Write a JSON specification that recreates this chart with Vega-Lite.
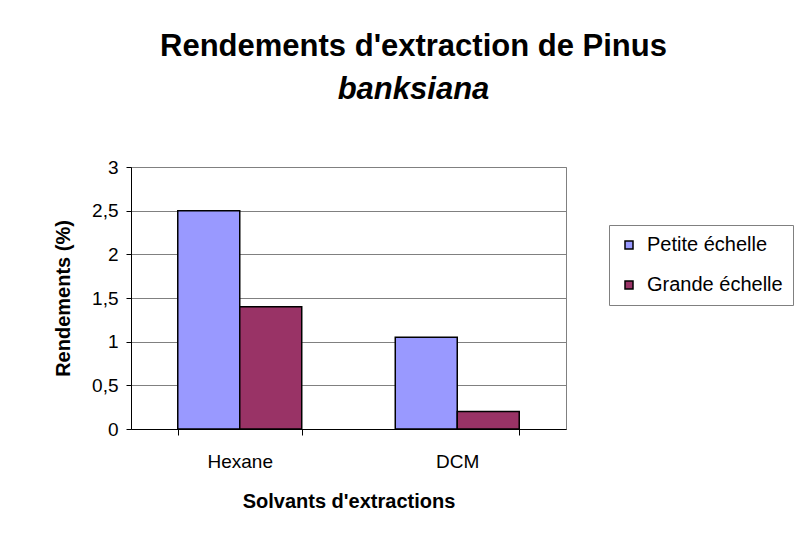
{
  "$schema": "https://vega.github.io/schema/vega-lite/v6.json",
  "autosize": {"type": "none"},
  "padding": {"left": 131, "top": 167, "right": 234, "bottom": 113},
  "width": 435,
  "height": 262,
  "background": "white",
  "title": {
    "text": "Rendements d'extraction de Pinus",
    "subtitle": "banksiana",
    "anchor": "middle",
    "dx": 65,
    "offset": 52,
    "font": "Liberation Sans",
    "fontSize": 31,
    "fontWeight": "bold",
    "color": "black",
    "subtitleFont": "Liberation Sans",
    "subtitleFontSize": 31,
    "subtitleFontWeight": "bold",
    "subtitleFontStyle": "italic",
    "subtitleColor": "black",
    "subtitlePadding": 12
  },
  "data": {
    "values": [
      {"solvant": "Hexane", "echelle": "Petite échelle", "rendement": 2.5},
      {"solvant": "Hexane", "echelle": "Grande échelle", "rendement": 1.4},
      {"solvant": "DCM", "echelle": "Petite échelle", "rendement": 1.05},
      {"solvant": "DCM", "echelle": "Grande échelle", "rendement": 0.2}
    ]
  },
  "mark": {"type": "bar", "stroke": "black", "strokeWidth": 1.5},
  "encoding": {
    "x": {
      "field": "solvant",
      "type": "nominal",
      "sort": ["Hexane", "DCM"],
      "scale": {"paddingInner": 0.43, "paddingOuter": 0.215},
      "axis": {
        "title": "Solvants d'extractions",
        "labelAngle": 0,
        "tickBand": "extent",
        "tickSize": 6,
        "tickColor": "black",
        "domainColor": "black",
        "labelPadding": 17,
        "titlePadding": 20,
        "labelFont": "Liberation Sans",
        "labelFontSize": 19,
        "labelColor": "black",
        "titleFont": "Liberation Sans",
        "titleFontSize": 20,
        "titleFontWeight": "bold",
        "titleColor": "black"
      }
    },
    "xOffset": {
      "field": "echelle",
      "type": "nominal",
      "sort": ["Petite échelle", "Grande échelle"],
      "scale": {"paddingInner": 0, "paddingOuter": 0}
    },
    "y": {
      "field": "rendement",
      "type": "quantitative",
      "scale": {"domain": [0, 3], "nice": false},
      "axis": {
        "title": "Rendements (%)",
        "values": [0, 0.5, 1, 1.5, 2, 2.5, 3],
        "labelExpr": "replace(format(datum.value, '.1~f'), '.', ',')",
        "tickSize": 5,
        "tickColor": "black",
        "domainColor": "black",
        "gridColor": "#808080",
        "gridOpacity": 1,
        "labelPadding": 8,
        "titlePadding": 18,
        "labelFont": "Liberation Sans",
        "labelFontSize": 19,
        "labelColor": "black",
        "titleFont": "Liberation Sans",
        "titleFontSize": 20,
        "titleFontWeight": "bold",
        "titleColor": "black"
      }
    },
    "color": {
      "field": "echelle",
      "type": "nominal",
      "sort": ["Petite échelle", "Grande échelle"],
      "scale": {"domain": ["Petite échelle", "Grande échelle"], "range": ["#9999FF", "#993366"]},
      "legend": {
        "title": null,
        "orient": "none",
        "legendX": 478,
        "legendY": 58,
        "padding": 10,
        "strokeColor": "#808080",
        "fillColor": "white",
        "symbolType": "square",
        "symbolSize": 64,
        "symbolStrokeColor": "black",
        "symbolStrokeWidth": 1.5,
        "symbolOpacity": 1,
        "rowPadding": 20,
        "labelOffset": 8,
        "labelFont": "Liberation Sans",
        "labelFontSize": 20,
        "labelColor": "black",
        "labelLimit": 300
      }
    }
  },
  "config": {
    "view": {"stroke": "#808080", "strokeWidth": 1}
  }
}
